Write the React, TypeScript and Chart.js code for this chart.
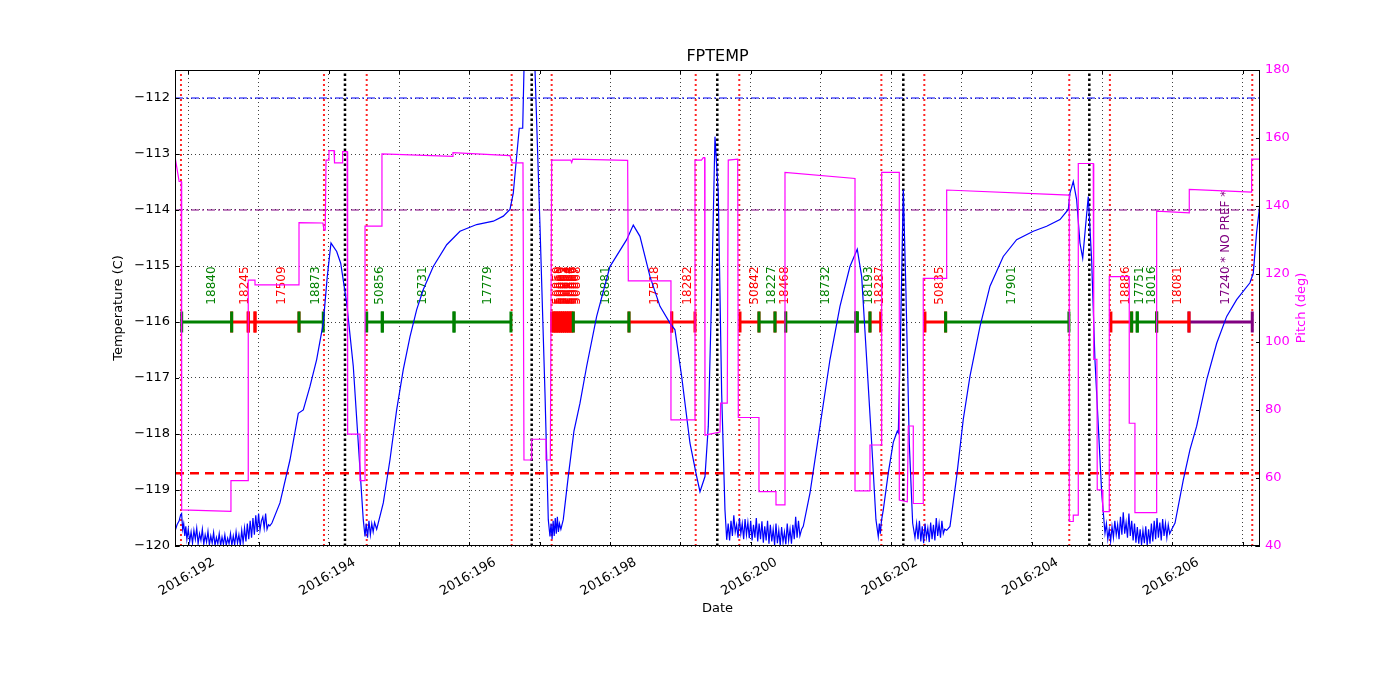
import React, { useEffect, useRef } from 'react';
import { Chart, registerables } from 'chart.js';

Chart.register(...registerables);

// ---------------- data ----------------
const X_MIN = 191.811;
const X_MAX = 207.245;
const TEMP_MIN = -120;
const TEMP_MAX = -111.5;
const PITCH_MIN = 40;
const PITCH_MAX = 180;

const xTickDays = [192, 194, 196, 198, 200, 202, 204, 206];
const xTickLabels = ['2016:192', '2016:194', '2016:196', '2016:198', '2016:200', '2016:202', '2016:204', '2016:206'];

// FPTEMP (day of year, deg C)
const tempSeries: [number, number][] = [
  [191.815, -119.72], [191.84, -119.62], [191.87, -119.55], [191.89, -119.45], [191.905, -119.42], [191.92, -119.7],
  [191.935, -119.6], [191.95, -119.82], [191.965, -119.65], [191.98, -119.88], [192.0, -119.7], [192.02, -119.92],
  [192.04, -119.75], [192.06, -119.95], [192.08, -119.72], [192.1, -119.88], [192.12, -119.68], [192.14, -119.96],
  [192.16, -119.78], [192.18, -119.9], [192.2, -119.7], [192.22, -119.97], [192.24, -119.8], [192.26, -119.93],
  [192.28, -119.74], [192.3, -119.98], [192.32, -119.82], [192.34, -119.95], [192.36, -119.76], [192.38, -119.99],
  [192.4, -119.85], [192.42, -119.96], [192.44, -119.78], [192.46, -119.99], [192.48, -119.84], [192.5, -119.97],
  [192.52, -119.8], [192.54, -119.99], [192.56, -119.86], [192.58, -119.96], [192.6, -119.78], [192.62, -119.99],
  [192.64, -119.82], [192.66, -119.98], [192.68, -119.75], [192.7, -119.95], [192.72, -119.8], [192.74, -119.99],
  [192.76, -119.72], [192.78, -119.94], [192.8, -119.68], [192.82, -119.92], [192.84, -119.6], [192.86, -119.88],
  [192.88, -119.55], [192.9, -119.85], [192.92, -119.5], [192.94, -119.8], [192.96, -119.45], [192.98, -119.75],
  [193.0, -119.42], [193.02, -119.72], [193.04, -119.55], [193.06, -119.48], [193.08, -119.68], [193.1, -119.42],
  [193.12, -119.7], [193.14, -119.62], [193.16, -119.64], [193.19, -119.59],
  [193.304, -119.23], [193.447, -118.46], [193.565, -117.63], [193.636, -117.57], [193.731, -117.15], [193.826, -116.67],
  [193.92, -116.02], [193.977, -115.19], [194.03, -114.59], [194.111, -114.74], [194.168, -114.95], [194.253, -115.66],
  [194.347, -116.79], [194.418, -118.16], [194.489, -119.53], [194.514, -119.83], [194.53, -119.6], [194.55, -119.85],
  [194.57, -119.55], [194.59, -119.8], [194.61, -119.6], [194.63, -119.75], [194.65, -119.58], [194.68, -119.7],
  [194.774, -119.23], [194.869, -118.46], [194.964, -117.57], [195.058, -116.85], [195.154, -116.26], [195.249, -115.78],
  [195.343, -115.42], [195.485, -115.01], [195.676, -114.62], [195.865, -114.38], [196.102, -114.26], [196.339, -114.2],
  [196.481, -114.11], [196.576, -113.99], [196.623, -113.7], [196.671, -113.04], [196.708, -112.54], [196.757, -112.54],
  [196.775, -111.5], [196.8, -110.8], [196.85, -110.5], [196.9, -110.8], [196.932, -111.5], [197.003, -114.29],
  [197.074, -117.27], [197.121, -119.53], [197.145, -119.83], [197.16, -119.6], [197.175, -119.88], [197.19, -119.55],
  [197.205, -119.82], [197.22, -119.5], [197.235, -119.78], [197.25, -119.48], [197.265, -119.75], [197.28, -119.6],
  [197.3, -119.7], [197.334, -119.53], [197.405, -118.76], [197.486, -117.95], [197.572, -117.45], [197.667, -116.79],
  [197.809, -115.9], [197.998, -115.01], [198.236, -114.53], [198.33, -114.27], [198.425, -114.47], [198.568, -115.19],
  [198.71, -115.72], [198.852, -116.02], [198.923, -116.14], [199.018, -116.97], [199.136, -118.16], [199.232, -118.76],
  [199.279, -119.03], [199.35, -118.76], [199.397, -117.86], [199.445, -115.48], [199.492, -112.69], [199.539, -113.7],
  [199.587, -117.27], [199.634, -119.35], [199.659, -119.89],
  [199.68, -119.6], [199.7, -119.9], [199.72, -119.55], [199.74, -119.82], [199.76, -119.45], [199.78, -119.75],
  [199.8, -119.62], [199.82, -119.85], [199.84, -119.5], [199.86, -119.78], [199.88, -119.6], [199.9, -119.88],
  [199.92, -119.52], [199.94, -119.8], [199.96, -119.58], [199.98, -119.86], [200.0, -119.55], [200.02, -119.9],
  [200.04, -119.62], [200.06, -119.85], [200.08, -119.5], [200.1, -119.92], [200.12, -119.6], [200.14, -119.88],
  [200.16, -119.56], [200.18, -119.94], [200.2, -119.65], [200.22, -119.9], [200.24, -119.55], [200.26, -119.96],
  [200.28, -119.62], [200.3, -119.92], [200.32, -119.7], [200.34, -119.98], [200.36, -119.6], [200.38, -119.95],
  [200.4, -119.72], [200.42, -119.99], [200.44, -119.66], [200.46, -119.93], [200.48, -119.75], [200.5, -119.97],
  [200.52, -119.6], [200.54, -119.9], [200.56, -119.7], [200.58, -119.96], [200.6, -119.62], [200.62, -119.88],
  [200.64, -119.48], [200.66, -119.85], [200.68, -119.55], [200.7, -119.82], [200.725, -119.7],
  [200.748, -119.65], [200.844, -119.05], [200.986, -117.86], [201.128, -116.67], [201.27, -115.72], [201.412, -115.01],
  [201.516, -114.7], [201.579, -115.19], [201.65, -116.67], [201.721, -118.16], [201.782, -119.53], [201.815, -119.83],
  [201.83, -119.6], [201.845, -119.78], [201.86, -119.55], [201.887, -119.35], [201.957, -118.7], [202.028, -118.15],
  [202.085, -117.95], [202.1, -117.98], [202.134, -116.08], [202.171, -113.64], [202.209, -115.48], [202.256, -118.16],
  [202.304, -119.59], [202.337, -119.85],
  [202.36, -119.6], [202.38, -119.88], [202.4, -119.55], [202.42, -119.92], [202.44, -119.65], [202.46, -119.95],
  [202.48, -119.6], [202.5, -119.85], [202.52, -119.68], [202.54, -119.93], [202.56, -119.58], [202.58, -119.88],
  [202.6, -119.62], [202.62, -119.9], [202.64, -119.5], [202.66, -119.82], [202.68, -119.6], [202.7, -119.85],
  [202.72, -119.55], [202.74, -119.78], [202.76, -119.7], [202.788, -119.72],
  [202.835, -119.65], [202.93, -118.76], [203.024, -117.74], [203.119, -116.97], [203.262, -116.08], [203.404, -115.36],
  [203.593, -114.83], [203.783, -114.53], [204.02, -114.38], [204.21, -114.29], [204.4, -114.17], [204.518, -113.99],
  [204.542, -113.7], [204.589, -113.49], [204.637, -113.82], [204.684, -114.59], [204.723, -114.86], [204.755, -114.41],
  [204.802, -113.76], [204.85, -114.89], [204.897, -116.67], [204.945, -117.86], [204.993, -119.05], [205.04, -119.77],
  [205.06, -119.6], [205.08, -119.88], [205.1, -119.7], [205.12, -119.92], [205.14, -119.65], [205.16, -119.85],
  [205.18, -119.55], [205.2, -119.8], [205.22, -119.62], [205.24, -119.88], [205.26, -119.48], [205.28, -119.8],
  [205.3, -119.4], [205.32, -119.78], [205.34, -119.58], [205.36, -119.85], [205.38, -119.42], [205.4, -119.82],
  [205.42, -119.55], [205.44, -119.9], [205.46, -119.6], [205.48, -119.94], [205.5, -119.66], [205.52, -119.96],
  [205.54, -119.7], [205.56, -119.98], [205.58, -119.72], [205.6, -119.95], [205.62, -119.65], [205.64, -119.99],
  [205.66, -119.7], [205.68, -119.96], [205.7, -119.6], [205.72, -119.92], [205.74, -119.55], [205.76, -119.88],
  [205.78, -119.5], [205.8, -119.85], [205.82, -119.58], [205.84, -119.9], [205.86, -119.52], [205.88, -119.82],
  [205.9, -119.6], [205.92, -119.85], [205.94, -119.62], [205.96, -119.78], [205.99, -119.7],
  [206.036, -119.59], [206.154, -118.82], [206.249, -118.28], [206.344, -117.86], [206.487, -117.03], [206.629, -116.38],
  [206.771, -115.9], [206.913, -115.6], [207.102, -115.3], [207.149, -115.13], [207.196, -114.41], [207.245, -113.88],
];

// Pitch (day of year, deg)
const pitchSeries: [number, number][] = [
  [191.811, 154.5], [191.87, 147.2], [191.9, 147.2], [191.906, 50.6], [192.607, 50.2], [192.607, 59.2],
  [192.853, 59.2], [192.853, 118.2], [192.949, 118.2], [192.949, 116.8], [193.575, 116.8], [193.575, 135.1],
  [193.915, 135.0], [193.93, 132.9], [193.948, 132.9], [193.959, 153.5], [194.001, 153.5], [194.001, 156.3],
  [194.073, 156.3], [194.08, 152.7], [194.19, 152.7], [194.196, 156.0], [194.26, 156.0], [194.267, 72.9],
  [194.442, 72.9], [194.442, 59.2], [194.514, 59.2], [194.514, 134.1], [194.755, 134.1], [194.755, 155.3],
  [195.76, 154.6], [195.765, 155.7], [196.576, 154.8], [196.605, 152.7], [196.761, 152.7], [196.775, 65.3],
  [196.885, 65.3], [196.885, 71.4], [197.088, 71.4], [197.088, 65.3], [197.15, 65.3], [197.169, 153.5],
  [197.44, 153.5], [197.454, 152.8], [197.47, 153.8], [198.25, 153.4], [198.259, 118.0], [198.866, 118.0],
  [198.866, 77.1], [199.208, 77.1], [199.208, 153.5], [199.3, 153.5], [199.326, 154.2], [199.345, 154.2],
  [199.35, 72.6], [199.563, 73.5], [199.573, 82.0], [199.667, 82.0], [199.681, 153.5], [199.815, 153.8],
  [199.824, 77.8], [200.118, 77.8], [200.118, 56.0], [200.36, 56.0], [200.36, 52.1], [200.488, 52.1],
  [200.488, 149.9], [201.484, 148.1], [201.484, 56.2], [201.697, 56.2], [201.697, 69.7], [201.863, 69.7],
  [201.863, 149.9], [202.114, 149.9], [202.114, 53.5], [202.228, 53.0], [202.242, 75.3], [202.313, 75.3],
  [202.313, 52.5], [202.455, 52.5], [202.455, 118.7], [202.788, 118.7], [202.788, 144.7], [204.532, 143.2],
  [204.532, 47.2], [204.589, 47.2], [204.589, 49.1], [204.66, 49.1], [204.66, 152.5], [204.873, 152.5],
  [204.88, 94.9], [204.925, 94.9], [204.93, 56.5], [205.0, 56.5], [205.01, 50.1], [205.101, 50.1],
  [205.101, 119.2], [205.385, 119.2], [205.385, 76.1], [205.466, 76.1], [205.466, 49.8], [205.775, 49.8],
  [205.775, 138.5], [206.239, 138.0], [206.239, 144.9], [207.126, 144.1], [207.126, 153.8], [207.245, 153.8],
];

// Observation segments
const segStart = [
  191.906, 192.617, 192.853, 192.949, 193.575, 194.538, 194.76, 195.78,
  197.169, 197.2, 197.23, 197.261, 197.292, 197.322, 197.353, 197.384, 197.414, 197.445,
  197.476, 198.269, 198.876, 199.848, 200.118, 200.346, 200.498, 201.494, 201.516, 201.697,
  202.479, 202.773, 205.124, 205.419, 205.499, 205.775, 206.235,
];
const segEnd = [
  192.617, 192.853, 192.949, 193.575, 193.92, 194.76, 195.78, 196.59,
  197.2, 197.23, 197.261, 197.292, 197.322, 197.353, 197.384, 197.414, 197.445, 197.476,
  198.269, 198.876, 199.208, 200.118, 200.346, 200.498, 201.494, 201.516, 201.697, 201.849,
  202.773, 204.527, 205.419, 205.499, 205.775, 206.235, 207.135,
];
const segLabel = [
  '18840', '18245', '', '17509', '18873', '50856', '18731', '17779',
  '50859', '50860', '50861', '50862', '50863', '50864', '50865', '50866', '50867', '50868',
  '18881', '17518', '18282', '50842', '18227', '18468', '18732', '', '18193', '18287',
  '50835', '17901', '18886', '17751', '18016', '18081', '17240 * NO PREF *',
];
const segGroup = [
  'g', 'r', 'r', 'r', 'g', 'g', 'g', 'g',
  'r', 'r', 'r', 'r', 'r', 'r', 'r', 'r', 'r', 'r',
  'g', 'r', 'r', 'r', 'g', 'r', 'g', 'g', 'g', 'r',
  'r', 'g', 'r', 'g', 'g', 'r', 'p',
];
const SEG_LEVEL = -116;
const SEG_LABEL_BASE = -115.69;

const redLineDays = [191.896, 193.93, 194.538, 196.6, 197.169, 199.218, 199.838, 201.859, 202.47, 204.532, 205.11, 207.135];
const blackLineDays = [194.229, 196.885, 199.525, 202.171, 204.817];

const TEMP_UPPER = -112.0;
const TEMP_MID = -114.0;
const TEMP_LOWER = -118.7;

// ---------------- rendering ----------------
const FONT = '"DejaVu Sans", "Liberation Sans", sans-serif';
const colorMap: Record<string, string> = { g: '#008000', r: '#ff0000', p: '#800080' };

function segData(group: string) {
  const out: { x: number; y: number | null }[] = [];
  segStart.forEach((s, i) => {
    if (segGroup[i] !== group) return;
    out.push({ x: s, y: SEG_LEVEL }, { x: segEnd[i], y: SEG_LEVEL }, { x: segEnd[i], y: null });
  });
  return out;
}

function vData(days: number[]) {
  const out: { x: number; y: number | null }[] = [];
  days.forEach((d) => out.push({ x: d, y: TEMP_MIN }, { x: d, y: TEMP_MAX }, { x: d, y: null }));
  return out;
}

function hData(v: number) {
  return [{ x: X_MIN, y: v }, { x: X_MAX, y: v }];
}

const overlayPlugin = {
  id: 'overlay',
  beforeDatasetsDraw(chart: any) {
    const { ctx, scales } = chart;
    const x = scales.x;
    const y = scales.y;
    const yb = y.getPixelForValue(SEG_LABEL_BASE);
    ctx.save();
    ctx.font = `12px ${FONT}`;
    ctx.textAlign = 'left';
    ctx.textBaseline = 'middle';
    segLabel.forEach((lab, i) => {
      if (!lab) return;
      const px = x.getPixelForValue((segStart[i] + segEnd[i]) / 2) + 5;
      ctx.save();
      ctx.translate(px, yb);
      ctx.rotate(-Math.PI / 2);
      ctx.fillStyle = colorMap[segGroup[i]];
      ctx.fillText(lab, 0, 0);
      ctx.restore();
    });
    ctx.restore();
  },
  afterDraw(chart: any) {
    const { ctx, chartArea: a, scales } = chart;
    const x = scales.x;
    const y = scales.y;
    const y2 = scales.y2;
    ctx.save();
    // frame
    ctx.strokeStyle = '#000';
    ctx.lineWidth = 1;
    ctx.strokeRect(a.left + 0.5, a.top + 0.5, a.right - a.left - 1, a.bottom - a.top - 1);
    // inward ticks
    ctx.beginPath();
    for (let d = 192; d <= 207; d++) {
      const px = Math.round(x.getPixelForValue(d)) + 0.5;
      ctx.moveTo(px, a.bottom);
      ctx.lineTo(px, a.bottom - 4);
      ctx.moveTo(px, a.top);
      ctx.lineTo(px, a.top + 4);
    }
    for (let v = -120; v <= -112; v++) {
      const py = Math.round(y.getPixelForValue(v)) + 0.5;
      ctx.moveTo(a.left, py);
      ctx.lineTo(a.left + 4, py);
    }
    for (let v = PITCH_MIN; v <= PITCH_MAX; v += 20) {
      const py = Math.round(y2.getPixelForValue(v)) + 0.5;
      ctx.moveTo(a.right, py);
      ctx.lineTo(a.right - 4, py);
    }
    ctx.stroke();

    // x tick labels (rotated, centred on tick)
    ctx.fillStyle = '#000';
    ctx.font = `13px ${FONT}`;
    ctx.textAlign = 'center';
    ctx.textBaseline = 'middle';
    xTickDays.forEach((d, i) => {
      const px = x.getPixelForValue(d) - 1.5;
      ctx.save();
      ctx.translate(px, a.bottom + 31);
      ctx.rotate(-Math.PI / 6);
      ctx.fillText(xTickLabels[i], 0, 0);
      ctx.restore();
    });

    // titles
    const cx = (a.left + a.right) / 2;
    const cy = (a.top + a.bottom) / 2;
    ctx.font = `16px ${FONT}`;
    ctx.fillText('FPTEMP', cx, a.top - 13);
    ctx.font = `13px ${FONT}`;
    ctx.fillText('Date', cx, a.bottom + 63);
    ctx.save();
    ctx.translate(a.left - 56, cy);
    ctx.rotate(-Math.PI / 2);
    ctx.fillText('Temperature (C)', 0, 0);
    ctx.restore();
    ctx.save();
    ctx.translate(a.right + 42, cy);
    ctx.rotate(-Math.PI / 2);
    ctx.fillStyle = '#ff00ff';
    ctx.fillText('Pitch (deg)', 0, 0);
    ctx.restore();
    ctx.restore();
  },
};

export default function App() {
  const canvasRef = useRef<HTMLCanvasElement | null>(null);

  useEffect(() => {
    if (!canvasRef.current) return;
    Chart.defaults.font.family = FONT;
    const gridColor = 'rgba(0,0,0,0.75)';
    const chart = new Chart(canvasRef.current, {
      type: 'line',
      data: {
        datasets: [
          {
            label: 'Pitch',
            data: pitchSeries.map(([d, v]) => ({ x: d, y: v })),
            yAxisID: 'y2',
            borderColor: '#ff00ff',
            borderWidth: 1.2,
            pointRadius: 0,
            tension: 0,
            order: 0,
          },
          {
            label: 'FPTEMP',
            data: tempSeries.map(([d, v]) => ({ x: d, y: v })),
            yAxisID: 'y',
            borderColor: '#0000ff',
            borderWidth: 1.2,
            pointRadius: 0,
            tension: 0,
            order: 1,
          },
          ...['g', 'r', 'p'].map((g) => ({
            label: 'seg-' + g,
            data: segData(g),
            yAxisID: 'y',
            borderColor: colorMap[g],
            borderWidth: 3,
            pointStyle: 'line' as const,
            rotation: 90,
            pointRadius: 10.5,
            pointBorderWidth: 3,
            pointBorderColor: colorMap[g],
            pointBackgroundColor: colorMap[g],
            spanGaps: false,
            order: 2,
          })),
          {
            label: 'red-v',
            data: vData(redLineDays),
            yAxisID: 'y',
            borderColor: 'rgba(255,0,0,0.85)',
            borderWidth: 2,
            borderDash: [2, 3],
            pointRadius: 0,
            spanGaps: false,
            order: 5,
          },
          {
            label: 'black-v',
            data: vData(blackLineDays),
            yAxisID: 'y',
            borderColor: '#000',
            borderWidth: 2.5,
            borderDash: [2.5, 2.5],
            pointRadius: 0,
            spanGaps: false,
            order: 5,
          },
          {
            label: 'upper',
            data: hData(TEMP_UPPER),
            yAxisID: 'y',
            borderColor: '#0000ff',
            borderWidth: 1.2,
            borderDash: [8, 3, 2, 3],
            pointRadius: 0,
            order: 4,
          },
          {
            label: 'mid',
            data: hData(TEMP_MID),
            yAxisID: 'y',
            borderColor: '#800080',
            borderWidth: 1.2,
            borderDash: [8, 3, 2, 3],
            pointRadius: 0,
            order: 4,
          },
          {
            label: 'lower',
            data: hData(TEMP_LOWER),
            yAxisID: 'y',
            borderColor: '#ff0000',
            borderWidth: 2.5,
            borderDash: [9, 6],
            pointRadius: 0,
            order: 4,
          },
        ],
      },
      options: {
        animation: false,
        responsive: true,
        maintainAspectRatio: false,
        devicePixelRatio: 1,
        layout: { padding: { top: 70, left: 0, right: 0, bottom: 0 } },
        plugins: {
          legend: { display: false },
          tooltip: { enabled: false },
          title: { display: false },
        },
        scales: {
          x: {
            type: 'linear',
            min: X_MIN,
            max: X_MAX,
            ticks: { stepSize: 1, includeBounds: false, display: false },
            grid: { color: gridColor, lineWidth: 1, drawTicks: false },
            border: { display: false, dash: [1, 3] },
            afterFit: (s: any) => { s.height = 154; },
          },
          y: {
            type: 'linear',
            position: 'left',
            min: TEMP_MIN,
            max: TEMP_MAX,
            ticks: {
              stepSize: 1,
              includeBounds: false,
              padding: 5,
              color: '#000',
              font: { size: 13, family: FONT },
              callback: (v: any) => (Number(v) < 0 ? '\u2212' + Math.abs(Number(v)) : String(v)),
            },
            grid: { color: gridColor, lineWidth: 1, drawTicks: false },
            border: { display: false, dash: [1, 3] },
            afterFit: (s: any) => { s.width = 175; },
          },
          y2: {
            type: 'linear',
            position: 'right',
            min: PITCH_MIN,
            max: PITCH_MAX,
            ticks: {
              stepSize: 20,
              includeBounds: false,
              padding: 5,
              color: '#ff00ff',
              font: { size: 13, family: FONT },
            },
            grid: { display: false, drawTicks: false },
            border: { display: false },
            afterFit: (s: any) => { s.width = 140; },
          },
        },
      },
      plugins: [overlayPlugin],
    } as any);
    return () => chart.destroy();
  }, []);

  return (
    <div style={{ position: 'fixed', left: 0, top: 0, width: 1400, height: 700, background: '#fff' }}>
      <canvas ref={canvasRef} width={1400} height={700} />
    </div>
  );
}
